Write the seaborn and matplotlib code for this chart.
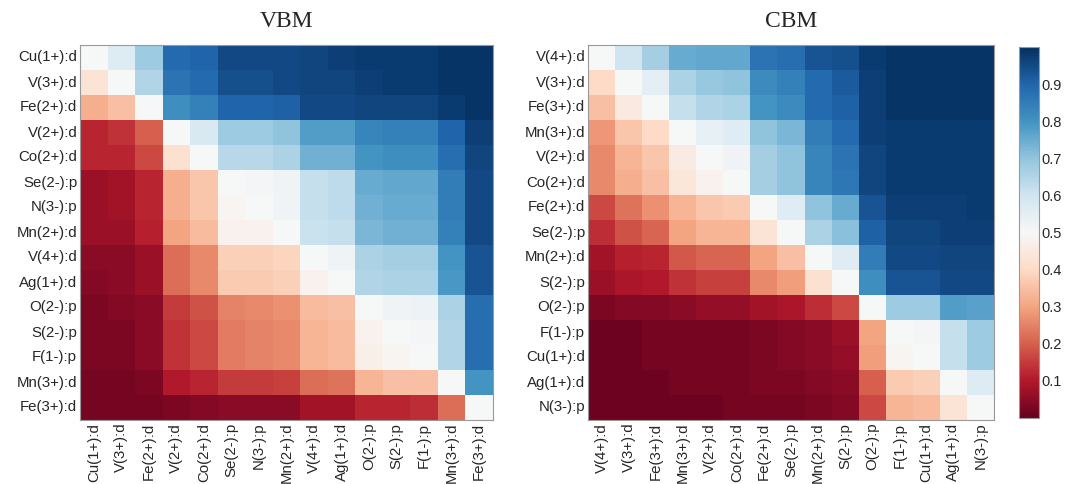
import matplotlib
matplotlib.use("Agg")
import matplotlib.pyplot as plt
import seaborn as sns
import numpy as np
import pandas as pd

vbm_labels = ["Cu(1+):d", "V(3+):d", "Fe(2+):d", "V(2+):d", "Co(2+):d", "Se(2-):p",
              "N(3-):p", "Mn(2+):d", "V(4+):d", "Ag(1+):d", "O(2-):p", "S(2-):p",
              "F(1-):p", "Mn(3+):d", "Fe(3+):d"]

vbm_values = [
    [0.50, 0.57, 0.68, 0.89, 0.90, 0.95, 0.95, 0.95, 0.96, 0.97, 0.98, 0.98, 0.98, 0.99, 0.99],
    [0.43, 0.50, 0.65, 0.87, 0.89, 0.94, 0.94, 0.95, 0.96, 0.96, 0.97, 0.98, 0.98, 0.99, 0.99],
    [0.32, 0.35, 0.50, 0.81, 0.84, 0.90, 0.90, 0.91, 0.95, 0.95, 0.96, 0.96, 0.96, 0.98, 0.99],
    [0.12, 0.14, 0.20, 0.50, 0.58, 0.68, 0.68, 0.70, 0.78, 0.78, 0.83, 0.84, 0.84, 0.90, 0.97],
    [0.12, 0.12, 0.17, 0.42, 0.50, 0.64, 0.64, 0.66, 0.74, 0.74, 0.80, 0.81, 0.81, 0.88, 0.96],
    [0.07, 0.08, 0.12, 0.32, 0.36, 0.50, 0.51, 0.52, 0.62, 0.63, 0.75, 0.76, 0.76, 0.85, 0.95],
    [0.07, 0.08, 0.12, 0.32, 0.36, 0.49, 0.50, 0.52, 0.62, 0.63, 0.74, 0.75, 0.75, 0.85, 0.95],
    [0.07, 0.07, 0.11, 0.30, 0.34, 0.48, 0.48, 0.50, 0.61, 0.62, 0.73, 0.74, 0.74, 0.84, 0.95],
    [0.05, 0.05, 0.07, 0.22, 0.26, 0.38, 0.38, 0.39, 0.50, 0.52, 0.66, 0.67, 0.67, 0.80, 0.93],
    [0.04, 0.05, 0.07, 0.22, 0.26, 0.37, 0.37, 0.38, 0.48, 0.50, 0.65, 0.66, 0.66, 0.79, 0.93],
    [0.03, 0.04, 0.05, 0.15, 0.18, 0.25, 0.26, 0.27, 0.34, 0.35, 0.50, 0.52, 0.53, 0.66, 0.88],
    [0.03, 0.03, 0.05, 0.14, 0.17, 0.24, 0.25, 0.26, 0.33, 0.34, 0.48, 0.50, 0.51, 0.65, 0.88],
    [0.03, 0.03, 0.05, 0.14, 0.17, 0.24, 0.25, 0.26, 0.33, 0.34, 0.47, 0.49, 0.50, 0.65, 0.88],
    [0.02, 0.02, 0.03, 0.10, 0.12, 0.15, 0.15, 0.16, 0.22, 0.23, 0.33, 0.35, 0.35, 0.50, 0.80],
    [0.02, 0.02, 0.02, 0.03, 0.04, 0.05, 0.05, 0.05, 0.08, 0.08, 0.12, 0.12, 0.13, 0.22, 0.50],
]

cbm_labels = ["V(4+):d", "V(3+):d", "Fe(3+):d", "Mn(3+):d", "V(2+):d", "Co(2+):d",
              "Fe(2+):d", "Se(2-):p", "Mn(2+):d", "S(2-):p", "O(2-):p", "F(1-):p",
              "Cu(1+):d", "Ag(1+):d", "N(3-):p"]

cbm_values = [
    [0.50, 0.60, 0.67, 0.75, 0.76, 0.76, 0.87, 0.88, 0.93, 0.94, 0.98, 0.99, 0.99, 0.99, 0.99],
    [0.40, 0.50, 0.55, 0.66, 0.69, 0.70, 0.82, 0.84, 0.89, 0.92, 0.97, 0.99, 0.99, 0.99, 0.99],
    [0.35, 0.45, 0.50, 0.62, 0.65, 0.66, 0.80, 0.82, 0.89, 0.91, 0.97, 0.99, 0.99, 0.99, 0.99],
    [0.28, 0.36, 0.40, 0.50, 0.54, 0.56, 0.70, 0.73, 0.85, 0.89, 0.97, 0.98, 0.98, 0.98, 0.98],
    [0.26, 0.33, 0.36, 0.46, 0.50, 0.52, 0.67, 0.70, 0.83, 0.87, 0.96, 0.98, 0.98, 0.98, 0.98],
    [0.26, 0.32, 0.35, 0.44, 0.48, 0.50, 0.67, 0.70, 0.83, 0.86, 0.96, 0.98, 0.98, 0.98, 0.98],
    [0.17, 0.23, 0.27, 0.33, 0.36, 0.37, 0.50, 0.56, 0.70, 0.75, 0.93, 0.97, 0.97, 0.97, 0.98],
    [0.13, 0.18, 0.21, 0.30, 0.33, 0.33, 0.43, 0.50, 0.66, 0.71, 0.91, 0.96, 0.96, 0.97, 0.97],
    [0.08, 0.11, 0.12, 0.19, 0.21, 0.21, 0.30, 0.35, 0.50, 0.56, 0.85, 0.95, 0.95, 0.96, 0.96],
    [0.07, 0.09, 0.10, 0.14, 0.16, 0.16, 0.26, 0.29, 0.42, 0.50, 0.81, 0.93, 0.93, 0.95, 0.95],
    [0.03, 0.04, 0.04, 0.05, 0.06, 0.06, 0.08, 0.09, 0.13, 0.17, 0.50, 0.68, 0.68, 0.78, 0.77],
    [0.01, 0.01, 0.02, 0.02, 0.02, 0.02, 0.03, 0.04, 0.05, 0.07, 0.30, 0.50, 0.51, 0.62, 0.68],
    [0.01, 0.01, 0.02, 0.02, 0.02, 0.02, 0.03, 0.04, 0.05, 0.06, 0.29, 0.49, 0.50, 0.62, 0.68],
    [0.01, 0.01, 0.01, 0.02, 0.02, 0.02, 0.03, 0.03, 0.04, 0.05, 0.20, 0.37, 0.38, 0.50, 0.57],
    [0.01, 0.01, 0.01, 0.01, 0.01, 0.02, 0.02, 0.02, 0.03, 0.04, 0.17, 0.33, 0.34, 0.43, 0.50],
]

cbar_ticks = [0.1, 0.2, 0.3, 0.4, 0.5, 0.6, 0.7, 0.8, 0.9]

sns.set_style("white")
plt.rcParams["font.family"] = ["Liberation Sans", "DejaVu Sans"]

fig = plt.figure(figsize=(10.65, 4.84), dpi=100)
ax1 = fig.add_axes([80 / 1065, 1 - 420 / 484, 413 / 1065, 375 / 484])
ax2 = fig.add_axes([588 / 1065, 1 - 420 / 484, 406 / 1065, 375 / 484])
cax = fig.add_axes([1019 / 1065, 1 - 418 / 484, 20 / 1065, 371 / 484])

df_v = pd.DataFrame(vbm_values, index=vbm_labels, columns=vbm_labels)
df_c = pd.DataFrame(cbm_values, index=cbm_labels, columns=cbm_labels)

sns.heatmap(df_v, ax=ax1, cmap="RdBu", vmin=0, vmax=1, cbar=False, square=False)
sns.heatmap(df_c, ax=ax2, cmap="RdBu", vmin=0, vmax=1, cbar_ax=cax,
            cbar_kws={"ticks": cbar_ticks})

for ax, title in [(ax1, "VBM"), (ax2, "CBM")]:
    ax.set_title(title, fontsize=17, family=["Liberation Serif", "DejaVu Serif"], pad=13)
    ax.set_xlabel("")
    ax.set_ylabel("")
    ax.set_xticklabels(ax.get_xticklabels(), rotation=90, fontsize=10.8)
    ax.set_yticklabels(ax.get_yticklabels(), rotation=0, fontsize=10.8)
    ax.tick_params(axis="both", length=0, pad=2)
    for s in ax.spines.values():
        s.set_visible(True)
        s.set_color("#999999")
        s.set_linewidth(0.8)

cbar = ax2.collections[0].colorbar
cbar.set_ticks(cbar_ticks)
cbar.set_ticklabels([f"{t:.1f}" for t in cbar_ticks])
cax.tick_params(labelsize=10.5, length=3, direction="in", pad=2, color="#555555")
cbar.outline.set_visible(True)
cbar.outline.set_edgecolor("#999999")
cbar.outline.set_linewidth(0.8)

fig.savefig("out.png", dpi=100)
